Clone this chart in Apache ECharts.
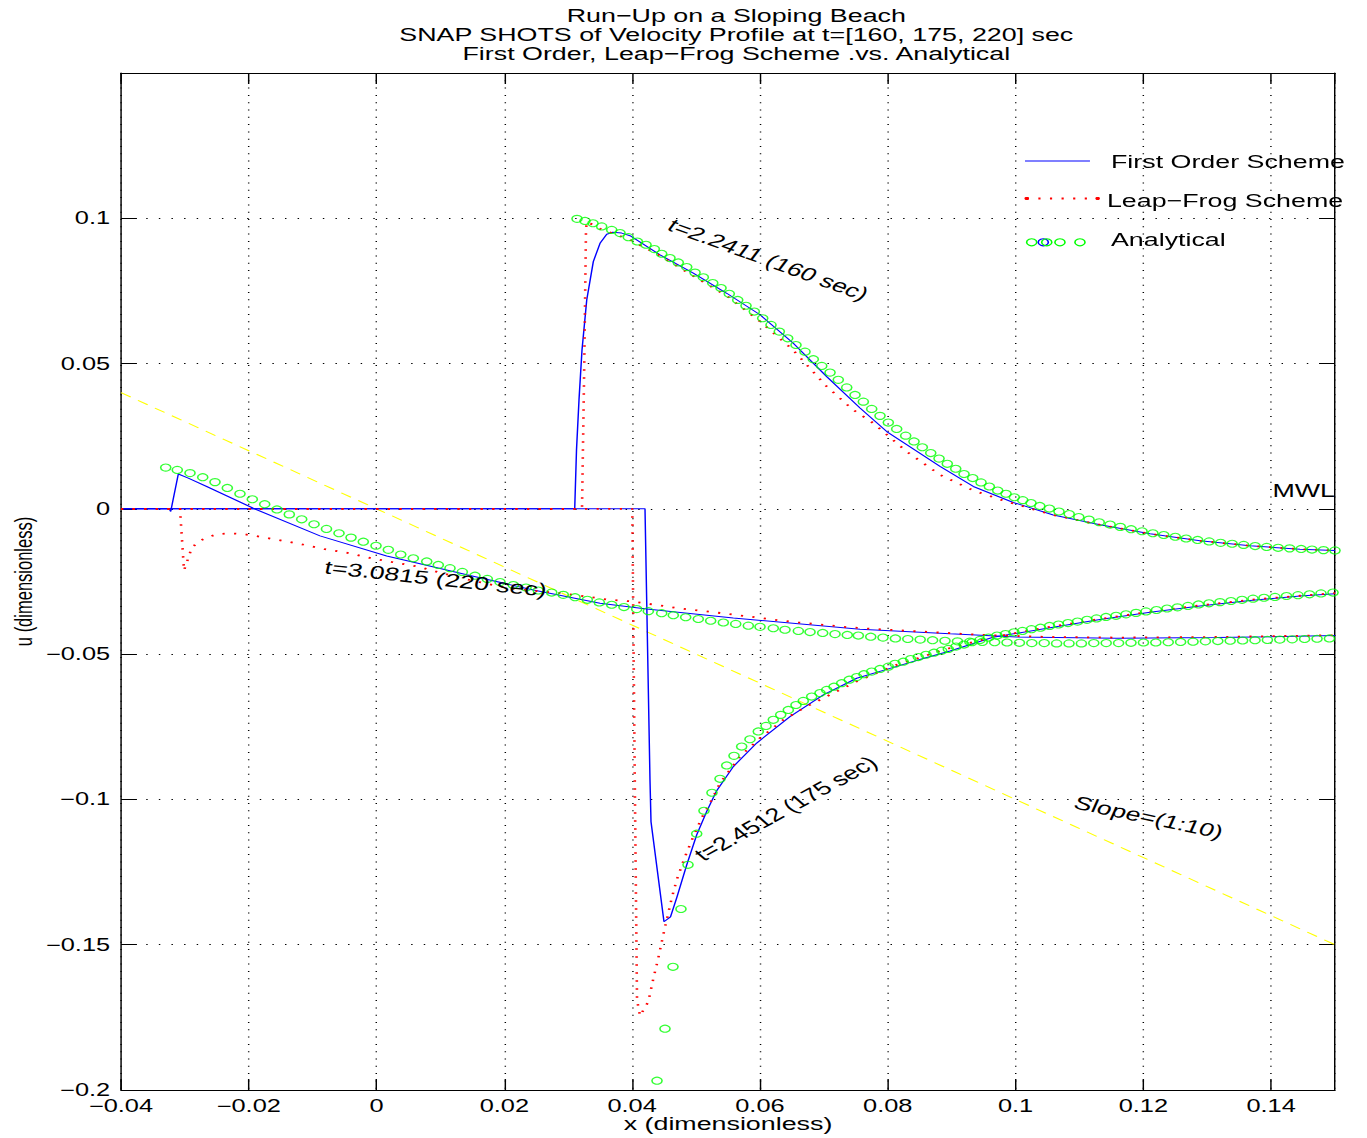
<!DOCTYPE html>
<html><head><meta charset="utf-8">
<script src="https://cdn.jsdelivr.net/npm/echarts@6/dist/echarts.min.js"></script>
<style>
html,body{margin:0;padding:0;background:#fff;overflow:hidden;width:1367px;height:1138px}
#c{width:942.76px;height:1138px;transform:scaleX(1.45);transform-origin:0 0;}
</style>
</head><body><div id="c"></div><script>
// ---------- DATA (x dimensionless, u dimensionless) ----------
const xTicks = [-0.04,-0.02,0,0.02,0.04,0.06,0.08,0.1,0.12,0.14];
const yTicks = [-0.2,-0.15,-0.1,-0.05,0,0.05,0.1];

const slope = [[-0.04,0.04],[0.15,-0.15]];

// t = 160 sec
const fo160 = [[-0.04,0],[0.03101,0],[0.03129,0.0203],[0.03168,0.0375],[0.03215,0.0547],[0.03289,0.0719],[0.03392,0.0851],[0.03497,0.0914],[0.03602,0.0945],[0.03696,0.0952],[0.03836,0.0949],[0.03966,0.0940],[0.04436,0.0874],[0.04957,0.0811],[0.0548,0.0742],[0.06001,0.0668],[0.06522,0.0570],[0.07045,0.0455],[0.07566,0.0347],[0.07984,0.0266],[0.08818,0.0146],[0.09339,0.0077],[0.09965,0.0022],[0.10591,-0.0021],[0.11322,-0.0055],[0.12105,-0.0086],[0.12887,-0.0110],[0.1367,-0.0127],[0.14453,-0.0139],[0.15,-0.0143]];
const lf160 = [[-0.04,0],[0.03215,0],[0.03247,0.0444],[0.03278,0.0967],[0.03294,0.0988],[0.03497,0.0964],[0.03966,0.0926],[0.04436,0.0871],[0.04952,0.0802],[0.0548,0.0733],[0.06001,0.0645],[0.06517,0.0547],[0.07045,0.0421],[0.07456,0.0341],[0.07774,0.0295],[0.08297,0.0197],[0.08818,0.0117],[0.09339,0.0063],[0.09861,0.0025],[0.10586,-0.0021],[0.11322,-0.0055],[0.12105,-0.0086],[0.12887,-0.0110],[0.1367,-0.0127],[0.14453,-0.0139],[0.15,-0.0143]];
const an160 = [[0.03137,0.0998],[0.03262,0.0991],[0.03387,0.0983],[0.03523,0.0972],[0.0368,0.0960],[0.0381,0.0949],[0.0394,0.0935],[0.04081,0.0920],[0.04217,0.0909],[0.04347,0.0894],[0.04462,0.0878],[0.04592,0.0863],[0.04722,0.0848],[0.04854,0.0832],[0.04984,0.0813],[0.05114,0.0797],[0.05261,0.0777],[0.05391,0.0760],[0.0552,0.0740],[0.05652,0.0719],[0.05782,0.0699],[0.05912,0.0679],[0.06043,0.0656],[0.06173,0.0633],[0.06303,0.0610],[0.06434,0.0587],[0.06564,0.0564],[0.06705,0.0541],[0.06835,0.0515],[0.06967,0.0492],[0.07097,0.0469],[0.07226,0.0444],[0.07358,0.0418],[0.07488,0.0392],[0.07618,0.0369],[0.07749,0.0344],[0.07879,0.0320],[0.08009,0.0297],[0.0814,0.0275],[0.08281,0.0252],[0.08411,0.0232],[0.08541,0.0212],[0.08673,0.0192],[0.08803,0.0173],[0.08932,0.0155],[0.09064,0.0138],[0.09194,0.0120],[0.0933,0.0106],[0.0946,0.0091],[0.0959,0.0077],[0.09721,0.0063],[0.09851,0.0052],[0.09981,0.0040],[0.10113,0.0030],[0.10242,0.0020],[0.1038,0.0010],[0.1053,0.0001],[0.1068,-0.0009],[0.1084,-0.0018],[0.1099,-0.0028],[0.1115,-0.0037],[0.1131,-0.0046],[0.1148,-0.0054],[0.1164,-0.0062],[0.1181,-0.0070],[0.1198,-0.0077],[0.1215,-0.0084],[0.1232,-0.0090],[0.1250,-0.0096],[0.1267,-0.0102],[0.1285,-0.0107],[0.1303,-0.0112],[0.1321,-0.0117],[0.1339,-0.0120],[0.1357,-0.0124],[0.1375,-0.0128],[0.1393,-0.0131],[0.1411,-0.0134],[0.1429,-0.0136],[0.1447,-0.0138],[0.1464,-0.0140],[0.1482,-0.0142],[0.15,-0.0143]];

// t = 175 sec
const fo175 = [[-0.04,0],[0.04201,0],[0.04279,-0.0933],[0.04295,-0.1077],[0.04498,-0.1421],[0.046,-0.1404],[0.04697,-0.1339],[0.04854,-0.1225],[0.0501,-0.1122],[0.05167,-0.1041],[0.05323,-0.0970],[0.05583,-0.0887],[0.05949,-0.0806],[0.0647,-0.0715],[0.06992,-0.0640],[0.07514,-0.0583],[0.08036,-0.0549],[0.08557,-0.0515],[0.08975,-0.0489],[0.09648,-0.0442],[0.1054,-0.0409],[0.11322,-0.0381],[0.12105,-0.0356],[0.12887,-0.0334],[0.1367,-0.0315],[0.14453,-0.0300],[0.15,-0.0292]];
const lf175 = [[-0.04,0],[0.04002,0],[0.04044,-0.1001],[0.04076,-0.1690],[0.04123,-0.1745],[0.04253,-0.1696],[0.04331,-0.1617],[0.04409,-0.1546],[0.04487,-0.1466],[0.04619,-0.1340],[0.04697,-0.1277],[0.04827,-0.1197],[0.04957,-0.1128],[0.05088,-0.1064],[0.05218,-0.1013],[0.05375,-0.0944],[0.05688,-0.0852],[0.06001,-0.0789],[0.06366,-0.0726],[0.06732,-0.0680],[0.07096,-0.0640],[0.07514,-0.0594],[0.07827,-0.0565],[0.0814,-0.0537],[0.08557,-0.0508],[0.0887,-0.0485],[0.0965,-0.0441],[0.1054,-0.0406],[0.11322,-0.0379],[0.12105,-0.0354],[0.12887,-0.0332],[0.1367,-0.0313],[0.14453,-0.0299],[0.15,-0.0290]];
const an175 = [[0.04389,-0.1968],[0.04514,-0.1789],[0.04639,-0.1576],[0.04764,-0.1377],[0.04874,-0.1225],[0.0501,-0.1118],[0.05124,-0.1039],[0.05249,-0.0977],[0.05375,-0.0929],[0.0548,-0.0883],[0.05594,-0.0850],[0.05714,-0.0818],[0.05844,-0.0793],[0.05974,-0.0766],[0.06095,-0.0747],[0.06209,-0.0726],[0.06325,-0.0709],[0.06444,-0.0692],[0.06564,-0.0675],[0.06678,-0.0661],[0.0681,-0.0646],[0.0694,-0.0634],[0.07045,-0.0623],[0.07159,-0.0612],[0.07279,-0.0600],[0.07398,-0.0588],[0.07514,-0.0579],[0.07628,-0.0569],[0.07749,-0.0560],[0.07879,-0.0551],[0.08009,-0.0543],[0.08114,-0.0533],[0.08243,-0.0526],[0.08359,-0.0517],[0.08478,-0.0510],[0.08599,-0.0502],[0.08724,-0.0495],[0.08844,-0.0488],[0.08948,-0.0482],[0.09069,-0.0474],[0.09194,-0.0467],[0.09319,-0.0459],[0.09444,-0.0451],[0.09577,-0.0443],[0.0971,-0.0436],[0.09843,-0.0431],[0.09976,-0.0425],[0.10109,-0.0420],[0.1025,-0.0414],[0.10391,-0.0409],[0.10532,-0.0403],[0.10673,-0.0398],[0.10821,-0.0393],[0.1097,-0.0388],[0.11119,-0.0382],[0.11267,-0.0377],[0.11416,-0.0372],[0.11573,-0.0368],[0.11729,-0.0363],[0.11886,-0.0358],[0.12042,-0.0353],[0.12206,-0.0348],[0.12371,-0.0343],[0.12535,-0.0339],[0.12699,-0.0334],[0.12864,-0.0329],[0.13028,-0.0325],[0.132,-0.0321],[0.13372,-0.0317],[0.13545,-0.0313],[0.13717,-0.0309],[0.13889,-0.0306],[0.14061,-0.0303],[0.14241,-0.0300],[0.14421,-0.0297],[0.14601,-0.0294],[0.14781,-0.0291],[0.14969,-0.0288]];

// t = 220 sec
const fo220 = [[-0.04,0],[-0.03244,0],[-0.03222,-0.0009],[-0.03103,0.0120],[-0.02947,0.0106],[-0.02659,0.0077],[-0.01929,0.0002],[-0.00886,-0.0093],[0.00158,-0.0162],[0.0068,-0.0189],[0.01411,-0.0227],[0.02453,-0.0279],[0.03497,-0.0325],[0.04228,-0.0345],[0.05583,-0.0376],[0.07566,-0.0414],[0.08975,-0.0430],[0.10019,-0.0441],[0.11584,-0.0445],[0.13149,-0.0443],[0.15,-0.0436]];
const lf220 = [[-0.04,0],[-0.03077,0],[-0.03045,-0.0107],[-0.03014,-0.0212],[-0.02894,-0.0135],[-0.02795,-0.0113],[-0.02638,-0.0097],[-0.02482,-0.0087],[-0.02294,-0.0084],[-0.02086,-0.0087],[-0.01903,-0.0093],[-0.01538,-0.0107],[-0.01172,-0.0122],[-0.00807,-0.0139],[-0.00443,-0.0152],[-0.00076,-0.0170],[0.00288,-0.0185],[0.00653,-0.0199],[0.01019,-0.0221],[0.01384,-0.0241],[0.01749,-0.0259],[0.0214,-0.0275],[0.02506,-0.0283],[0.02871,-0.0290],[0.03235,-0.0300],[0.03602,-0.0312],[0.03966,-0.0318],[0.04358,-0.0330],[0.04722,-0.0342],[0.05089,-0.0351],[0.0548,-0.0361],[0.05845,-0.0371],[0.06236,-0.0382],[0.066,-0.0391],[0.06992,-0.0399],[0.07358,-0.0407],[0.07754,-0.0413],[0.08505,-0.0422],[0.09496,-0.0434],[0.1054,-0.0441],[0.11584,-0.0443],[0.13149,-0.0441],[0.15,-0.0435]];
const an220 = [[-0.03300,0.0142],[-0.03119,0.0134],[-0.0292,0.0123],[-0.02721,0.0109],[-0.02529,0.0092],[-0.02336,0.0072],[-0.02138,0.0052],[-0.01945,0.0033],[-0.01751,0.0016],[-0.01559,-0.0002],[-0.01366,-0.0019],[-0.01172,-0.0036],[-0.00979,-0.0053],[-0.00784,-0.0069],[-0.00588,-0.0084],[-0.004,-0.0099],[-0.00208,-0.0113],[-0.00009,-0.0127],[0.00184,-0.0141],[0.00378,-0.0157],[0.00575,-0.0170],[0.00785,-0.0181],[0.00966,-0.0193],[0.01149,-0.0204],[0.01342,-0.0217],[0.0154,-0.0230],[0.01733,-0.0241],[0.01932,-0.0252],[0.0214,-0.0262],[0.02339,-0.0271],[0.02531,-0.0281],[0.02741,-0.0288],[0.02922,-0.0296],[0.03106,-0.0304],[0.03298,-0.0313],[0.03486,-0.0322],[0.0368,-0.0330],[0.03872,-0.0338],[0.04071,-0.0345],[0.04253,-0.0352],[0.04462,-0.0359],[0.04644,-0.0366],[0.04838,-0.0373],[0.05035,-0.0379],[0.05229,-0.0385],[0.05427,-0.0391],[0.05621,-0.0396],[0.05818,-0.0402],[0.06001,-0.0406],[0.06209,-0.0411],[0.06392,-0.0416],[0.06601,-0.0420],[0.06784,-0.0424],[0.06982,-0.0427],[0.07175,-0.0431],[0.07367,-0.0434],[0.0754,-0.0436],[0.07734,-0.0440],[0.07926,-0.0443],[0.0812,-0.0446],[0.08314,-0.0448],[0.08508,-0.0450],[0.08702,-0.0452],[0.08896,-0.0454],[0.09091,-0.0456],[0.09285,-0.0457],[0.09479,-0.0458],[0.09673,-0.0459],[0.09867,-0.0460],[0.10061,-0.0461],[0.10255,-0.0462],[0.10449,-0.0462],[0.10643,-0.0463],[0.10837,-0.0463],[0.11031,-0.0463],[0.11225,-0.0462],[0.11419,-0.0462],[0.11613,-0.0462],[0.11807,-0.0461],[0.12002,-0.0460],[0.12196,-0.0460],[0.1239,-0.0459],[0.12584,-0.0458],[0.12778,-0.0457],[0.12972,-0.0456],[0.13166,-0.0455],[0.1336,-0.0454],[0.13554,-0.0453],[0.13748,-0.0452],[0.13942,-0.0451],[0.14136,-0.0450],[0.1433,-0.0449],[0.14524,-0.0448],[0.14719,-0.0447],[0.14913,-0.0446]];

// ---------- STYLE / LAYOUT ----------
const FONT = '"Liberation Sans", Arial, Helvetica, sans-serif';
const BLUE = '#0000ff', RED = '#ff0000', GREEN = '#00ff00', YELLOW = '#ffff00';
function fmt(v){ const r = Math.round(v*10000)/10000; if (r === 0) return '0'; return (r < 0 ? '\u2212' : '') + String(Math.abs(r)); }

const chart = echarts.init(document.getElementById('c'), null, {renderer:'svg', width:942.76, height:1138});

function blueLine(d){ return {type:'line', data:d, showSymbol:false, symbol:'none', silent:true, animation:false, z:2,
  lineStyle:{color:BLUE, width:1}}; }
function redLine(d){ return {type:'line', data:d, showSymbol:false, symbol:'none', silent:true, animation:false, z:3,
  lineStyle:{color:RED, width:1.8, type:[1.5,6.5], cap:'butt'}}; }
function greenPts(d){ return {type:'scatter', data:d, symbol:'circle', symbolSize:7, silent:true, animation:false, z:4,
  itemStyle:{color:'rgba(0,0,0,0)', borderColor:GREEN, borderWidth:1.1}}; }

const axisCommon = {
  type:'value', axisLine:{show:true, onZero:false, lineStyle:{color:'#000', width:1}},
};
chart.setOption({
  animation:false,
  backgroundColor:'#fff',
  title:{text:'Run\u2212Up on a Sloping Beach\nSNAP SHOTS of Velocity Profile at t=[160, 175, 220] sec\nFirst Order, Leap\u2212Frog Scheme .vs. Analytical',
    left:502.8, top:1, textAlign:'center',
    textStyle:{fontFamily:FONT, fontSize:18.5, fontWeight:'normal', color:'#000', lineHeight:19}},
  grid:{left:83.45, right:22.07, top:73, bottom:48, containLabel:false, outerBoundsMode:'none'},
  xAxis:[
    Object.assign({}, axisCommon, {position:'bottom', min:-0.04, max:0.15, interval:0.02,
      name:'x (dimensionless)', nameLocation:'middle', nameGap:24, nameMoveOverlap:false,
      nameTextStyle:{fontFamily:FONT, fontSize:18.5, color:'#000'},
      axisTick:{show:true, inside:true, length:11, lineStyle:{color:'#000'}},
      axisLabel:{show:true, margin:8, fontFamily:FONT, fontSize:17.5, lineHeight:15, color:'#000', formatter:fmt, showMaxLabel:false, showMinLabel:true},
      splitLine:{show:true, lineStyle:{color:'#000', width:1, type:[1,6.3]}}}),
    Object.assign({}, axisCommon, {position:'top', min:-0.04, max:0.15, interval:0.02,
      axisTick:{show:true, inside:true, length:11, lineStyle:{color:'#000'}},
      axisLabel:{show:false}, splitLine:{show:false}})
  ],
  yAxis:[
    Object.assign({}, axisCommon, {position:'left', min:-0.2, max:0.15, interval:0.05,
      name:'u (dimensionless)', nameLocation:'middle', nameGap:59, nameMoveOverlap:false,
      nameTextStyle:{fontFamily:FONT, fontSize:16.5, color:'#000'},
      axisTick:{show:true, inside:true, length:11, lineStyle:{color:'#000'}},
      axisLabel:{show:true, margin:7.5, fontFamily:FONT, fontSize:17.5, lineHeight:15, color:'#000', formatter:fmt, showMaxLabel:false, showMinLabel:true},
      splitLine:{show:true, lineStyle:{color:'#000', width:1, type:[1,7.7]}}}),
    Object.assign({}, axisCommon, {position:'right', min:-0.2, max:0.15, interval:0.05,
      axisTick:{show:true, inside:true, length:11, lineStyle:{color:'#000'}},
      axisLabel:{show:false}, splitLine:{show:false}})
  ],
  series:[
    {type:'line', data:slope, showSymbol:false, symbol:'none', silent:true, z:1, lineStyle:{color:YELLOW, width:1, type:[8,6]}},
    blueLine(fo160), redLine(lf160), greenPts(an160),
    blueLine(fo175), redLine(lf175), greenPts(an175),
    blueLine(fo220), redLine(lf220), greenPts(an220)
  ]
});

// ---------- annotations (anchored in data coordinates) ----------
const notes = [
  {text:'t=2.2411 (160 sec)', at:[0.04592, 0.0981], rot:-27.8, align:'left'},
  {text:'t=2.4512 (175 sec)', at:[0.0503, -0.1197], rot:38.6, align:'left'},
  {text:'t=3.0815 (220 sec)', at:[-0.00807, -0.0200], rot:-8.7, align:'left'},
  {text:'Slope=(1:10)', at:[0.10931, -0.1008], rot:-16.9, align:'left'},
  {text:'MWL', at:[0.15, 0.0062], rot:0, align:'right'}
];
const els = notes.map(n => {
  const p = chart.convertToPixel({xAxisIndex:0, yAxisIndex:0}, n.at);
  return {type:'text', x:p[0], y:p[1], rotation:n.rot*Math.PI/180, z:10, silent:true,
    style:{text:n.text, font:'18.5px ' + FONT, fill:'#000', textAlign:n.align, textVerticalAlign:'middle', align:n.align, verticalAlign:'middle'}};
});

// ---------- legend (drawn as graphic, top right) ----------
const LX = 706.9, LT = 766.2;
els.push(
  {type:'line', shape:{x1:LX, y1:161, x2:751.7, y2:161}, style:{stroke:BLUE, lineWidth:1}, silent:true, z:10},
  {type:'text', x:LT, y:161.5, silent:true, z:10, style:{text:'First Order Scheme', font:'18.5px '+FONT, fill:'#000', textVerticalAlign:'middle', verticalAlign:'middle'}},
  {type:'line', shape:{x1:708.1, y1:198.5, x2:757.0, y2:198.5}, style:{stroke:RED, lineWidth:1.8, lineDash:[1.5,6.5]}, silent:true, z:10},
  {type:'circle', shape:{cx:708.1, cy:198.5, r:1.6}, style:{fill:RED}, silent:true, z:10},
  {type:'circle', shape:{cx:757.0, cy:198.5, r:1.6}, style:{fill:RED}, silent:true, z:10},
  {type:'text', x:763.4, y:201, silent:true, z:10, style:{text:'Leap\u2212Frog Scheme', font:'18.5px '+FONT, fill:'#000', textVerticalAlign:'middle', verticalAlign:'middle'}},
  {type:'circle', shape:{cx:711.5, cy:242.3, r:3.5}, style:{fill:'none', stroke:GREEN, lineWidth:1.1}, silent:true, z:10},
  {type:'circle', shape:{cx:719.5, cy:242.3, r:3.5}, style:{fill:'none', stroke:BLUE, lineWidth:1.1}, silent:true, z:10},
  {type:'circle', shape:{cx:721.9, cy:242.3, r:3.5}, style:{fill:'none', stroke:GREEN, lineWidth:1.1}, silent:true, z:10},
  {type:'circle', shape:{cx:731.0, cy:242.3, r:3.5}, style:{fill:'none', stroke:GREEN, lineWidth:1.1}, silent:true, z:10},
  {type:'circle', shape:{cx:744.8, cy:242.3, r:3.5}, style:{fill:'none', stroke:GREEN, lineWidth:1.1}, silent:true, z:10},
  {type:'text', x:LT, y:240, silent:true, z:10, style:{text:'Analytical', font:'18.5px '+FONT, fill:'#000', textVerticalAlign:'middle', verticalAlign:'middle'}}
);
chart.setOption({graphic:{elements:els}});
</script></body></html>
